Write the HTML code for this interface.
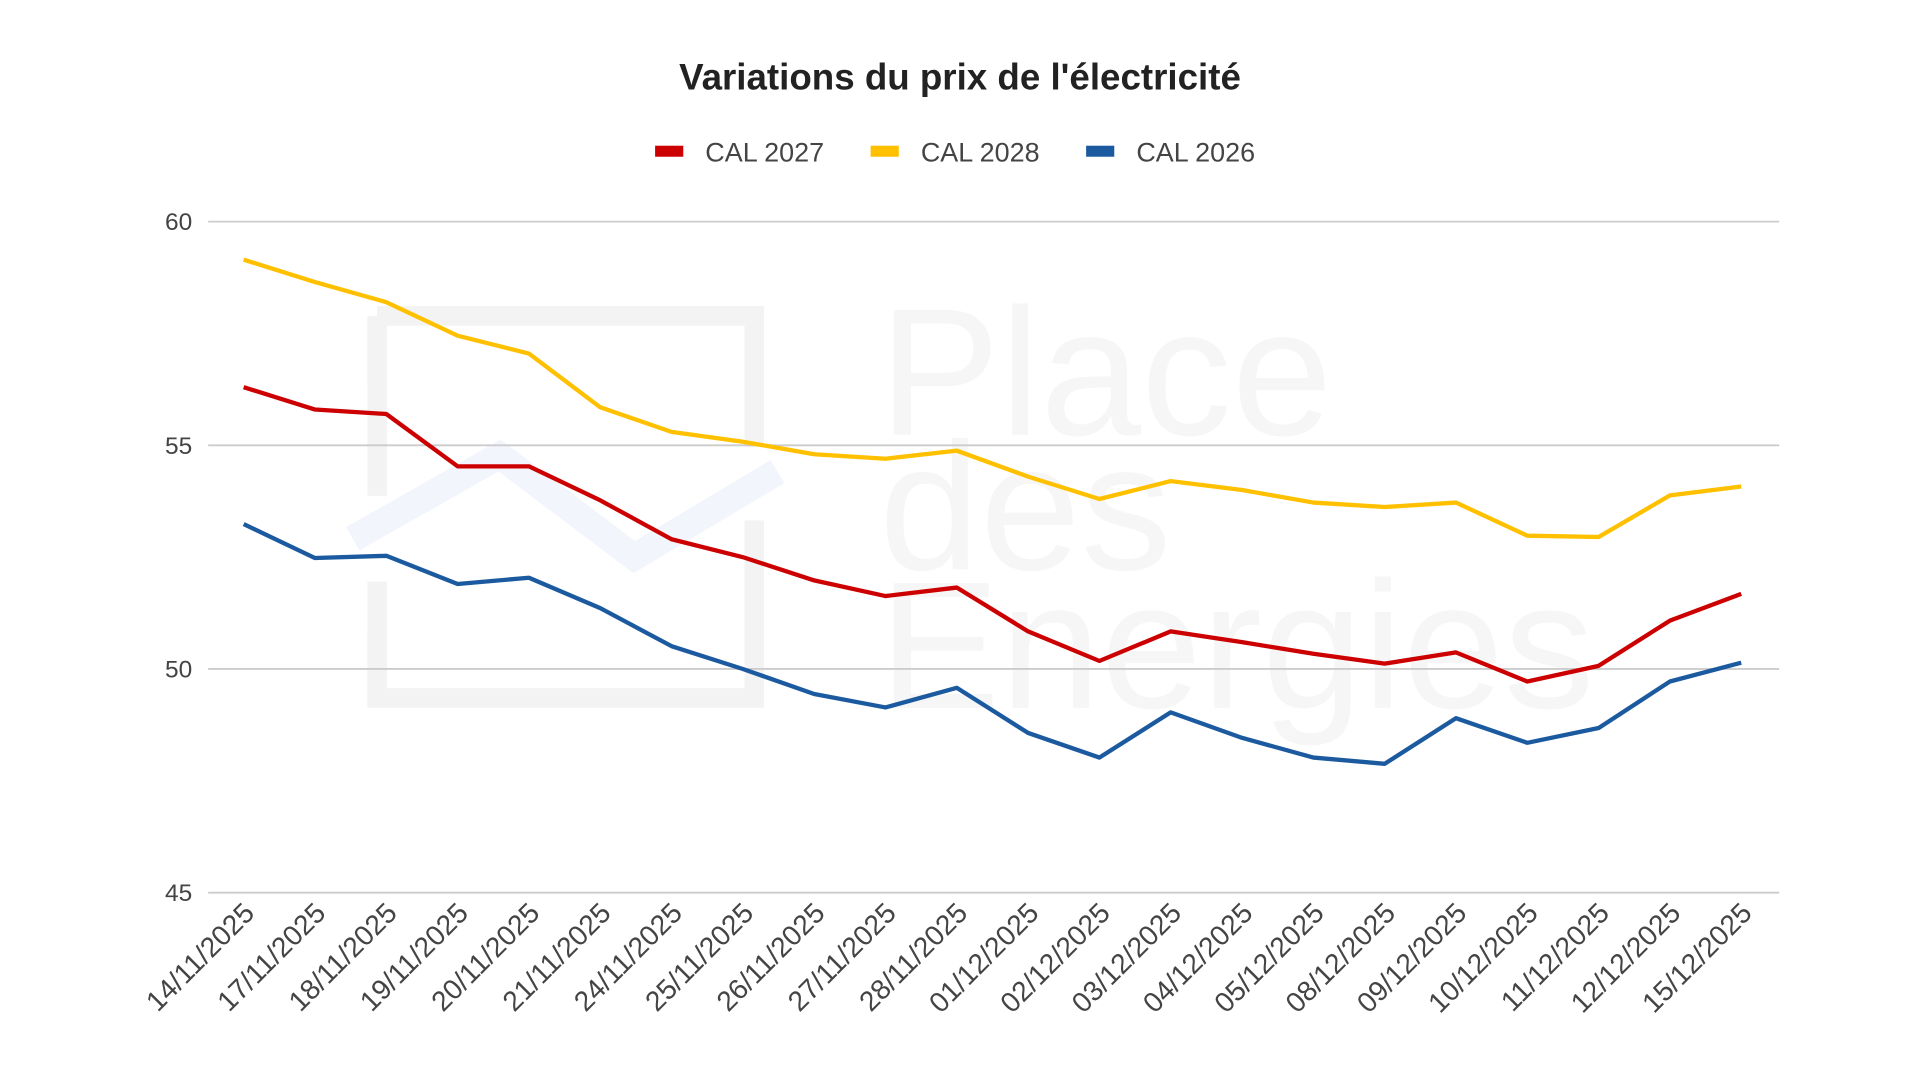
<!DOCTYPE html>
<html><head><meta charset="utf-8"><style>
html,body{margin:0;padding:0;background:#fff;width:1920px;height:1080px;overflow:hidden}
svg{display:block;font-family:"Liberation Sans",sans-serif}
</style></head><body>
<svg id="chart" width="1920" height="1080" viewBox="0 0 1568 882">
<g fill="none" opacity="0.5">
<path d="M308 258 H616 V365 M616 425 V570 H308 V475 M308 405 V258" stroke="#e8e8e8" stroke-width="16"/>
<path d="M288 440 L408 372 L518 455 L635 385" stroke="#e6eefa" stroke-width="22"/>
<text x="718" y="355" font-size="148" fill="#eeeeee">Place</text>
<text x="718" y="465" font-size="148" fill="#eeeeee">des</text>
<text x="718" y="578" font-size="148" fill="#eeeeee">Energies</text>
</g>
<text x="784" y="73" text-anchor="middle" font-size="30" font-weight="bold" fill="#222">Variations du prix de l'électricité</text>
<g id="legend"></g>
<g id="grid"></g><g id="series"></g><g id="xlabels"></g>
</svg>
<script>
const categories=["14/11/2025","17/11/2025","18/11/2025","19/11/2025","20/11/2025","21/11/2025","24/11/2025","25/11/2025","26/11/2025","27/11/2025","28/11/2025","01/12/2025","02/12/2025","03/12/2025","04/12/2025","05/12/2025","08/12/2025","09/12/2025","10/12/2025","11/12/2025","12/12/2025","15/12/2025"];
const cal2027=[56.3,55.8,55.7,54.53,54.53,53.77,52.9,52.5,51.98,51.63,51.82,50.84,50.18,50.84,50.6,50.34,50.12,50.37,49.72,50.07,51.08,51.68];
const cal2028=[59.15,58.65,58.2,57.45,57.05,55.85,55.3,55.08,54.8,54.7,54.88,54.3,53.8,54.2,54.0,53.72,53.62,53.72,52.98,52.95,53.88,54.08];
const cal2026=[53.24,52.48,52.53,51.9,52.04,51.36,50.51,50.0,49.44,49.14,49.58,48.57,48.02,49.03,48.46,48.02,47.88,48.9,48.35,48.68,49.72,50.14];
const yTicks=[45,50,55,60];
const seriesNames=["CAL 2027","CAL 2028","CAL 2026"];
const NS="http://www.w3.org/2000/svg";
const X0=199,X1=1422,Y45=729,Y60=181,PL=170,PR=1453;
const xs=i=>X0+(X1-X0)*i/(categories.length-1);
const ys=v=>Y45+(v-45)*(Y60-Y45)/15;
function mk(t,a,p){const e=document.createElementNS(NS,t);for(const k in a)e.setAttribute(k,a[k]);p.appendChild(e);return e;}
const grid=document.getElementById('grid');
yTicks.forEach(v=>{
 const l=mk('line',{x1:PL,x2:PR,y1:ys(v),y2:ys(v),stroke:'#cccccc','stroke-width':1.5},grid);
 
 
 const t=mk('text',{x:157,y:ys(v)+7,'text-anchor':'end','font-size':20,fill:'#444'},grid);
 t.textContent=v;
 
 
});
const xl=document.getElementById('xlabels');
categories.forEach((c,i)=>{
 const x=xs(i)+10,y=747;
 const t=mk('text',{x:x,y:y,'text-anchor':'end','font-size':23,fill:'#444',transform:`rotate(-45 ${x} ${y})`},xl);
 t.textContent=c;
 
 
});
const colors=['#cc0000','#ffc000','#1c5aa0'];
const datas=[cal2027,cal2028,cal2026];
const sg=document.getElementById('series');
[1,0,2].forEach(k=>{
 const p=mk('polyline',{points:datas[k].map((v,i)=>xs(i)+','+ys(v)).join(' '),fill:'none',stroke:colors[k],'stroke-width':3.5,'stroke-linejoin':'round'},sg);
 
 
});
const lg=document.getElementById('legend');
const lx=[535,711,887];
seriesNames.forEach((n,k)=>{
 const r=mk('rect',{x:lx[k],y:119,width:23,height:9,fill:colors[k]},lg);
 
 
 const t=mk('text',{x:lx[k]+41,y:132,'font-size':22,fill:'#444'},lg);
 t.textContent=n;
 
 
});
</script>
</body></html>
